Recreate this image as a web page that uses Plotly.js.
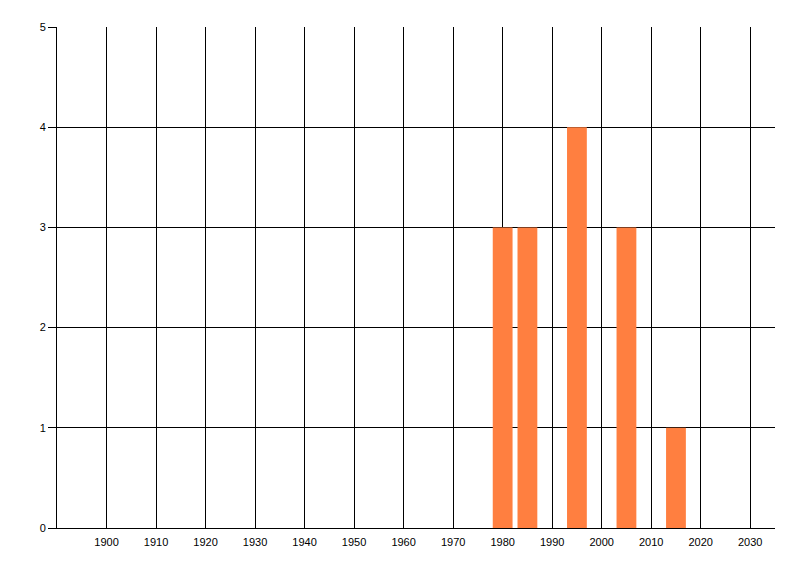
<!DOCTYPE html>
<html>
<head>
<meta charset="utf-8">
<script src="https://cdn.plot.ly/plotly-3.0.1.min.js"></script>
<style>html,body{margin:0;padding:0;background:#fff;}#chart{width:800px;height:576px;}</style>
</head>
<body>
<div id="chart"></div>
<script>
const years = [1980, 1985, 1995, 2005, 2015];
const counts = [3, 3, 4, 3, 1];
const xTicks = [1900, 1910, 1920, 1930, 1940, 1950, 1960, 1970, 1980, 1990, 2000, 2010, 2020, 2030];
const yTicks = [0, 1, 2, 3, 4, 5];

const trace = {
  type: 'bar',
  x: years,
  y: counts,
  width: 4,
  marker: {color: '#FF7F40', line: {width: 0}},
  hoverinfo: 'x+y'
};

const layout = {
  width: 800,
  height: 576,
  margin: {l: 57, r: 25, t: 27, b: 48},
  paper_bgcolor: '#ffffff',
  plot_bgcolor: '#ffffff',
  showlegend: false,
  font: {family: '"Liberation Sans", Arial, sans-serif', size: 11, color: '#000'},
  xaxis: {
    range: [1890, 2035],
    tickvals: xTicks,
    ticktext: xTicks.map(String),
    showgrid: true, gridcolor: '#000', gridwidth: 1,
    showline: true, linecolor: '#000', linewidth: 1,
    zeroline: false,
    ticks: '',
    ticklabelstandoff: 4,
    tickfont: {size: 11, color: '#000'}
  },
  yaxis: {
    range: [0, 5],
    tickvals: yTicks,
    ticktext: yTicks.map(String),
    showgrid: true, gridcolor: '#000', gridwidth: 1,
    showline: true, linecolor: '#000', linewidth: 1,
    zeroline: false,
    ticks: 'outside', ticklen: 8, tickcolor: '#000', tickwidth: 1,
    tickfont: {size: 11, color: '#000'}
  }
};

Plotly.newPlot('chart', [trace], layout, {displayModeBar: false, staticPlot: true});
</script>
</body>
</html>
